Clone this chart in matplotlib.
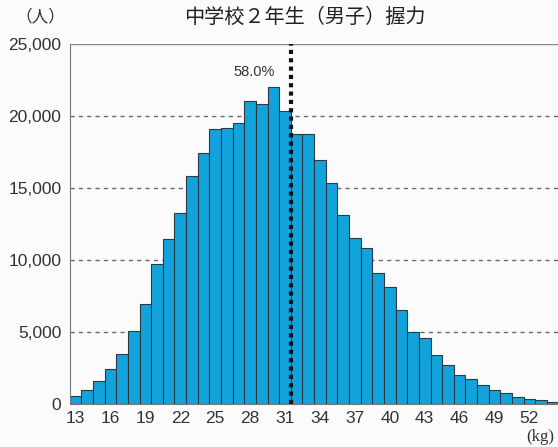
import matplotlib
matplotlib.use("Agg")
import matplotlib.pyplot as plt
import numpy as np

plt.rcParams['font.family'] = ['Liberation Sans', 'Noto Sans CJK JP', 'DejaVu Sans']

# grip strength (kg) and number of students
grip_kg = list(range(13, 55))
students = [600, 1000, 1600, 2470, 3500, 5100, 7000, 9760, 11480, 13300,
            15870, 17470, 19100, 19200, 19560, 21060, 20880, 22060, 20390, 18800,
            18770, 16940, 15350, 13150, 11530, 10880, 9100, 8170, 6550, 5040,
            4630, 3450, 2750, 2060, 1740, 1320, 1000, 800, 530, 390,
            280, 160]
y_ticks = [0, 5000, 10000, 15000, 20000, 25000]
y_tick_labels = ["0", "5,000", "10,000", "15,000", "20,000", "25,000"]
x_ticks = list(range(13, 53, 3))
cut_kg = 31.5
cut_label = "58.0%"

BAR_COLOR = "#12a3dc"
TEXT_COLOR = "#333333"

fig = plt.figure(figsize=(5.58, 4.47), dpi=100)
fig.patch.set_facecolor("#fbfbfb")
ax = fig.add_axes([0.1249, 0.0955, 0.8751, 0.8054])
ax.set_facecolor("#fbfbfb")

ax.bar(grip_kg, students, width=1.0, color=BAR_COLOR, edgecolor="#2b3a40",
       linewidth=0.8, zorder=2)

# dashed grid lines
for y in y_ticks[1:-1]:
    ax.axhline(y, color="#6a6a6a", linestyle=(0, (3, 3)), linewidth=1.0, zorder=1)
ax.axhline(25000, color="#888888", linewidth=1.0, zorder=1)

# average line
ax.axvline(cut_kg, color="#111111", linestyle=(0, (1, 1)), linewidth=3.0, zorder=3)
ax.text(28.35, 23100, cut_label, ha="center", va="center", fontsize=10.5,
        color=TEXT_COLOR)

ax.set_xlim(12.5, 54.45)
ax.set_ylim(0, 25000)
ax.set_yticks(y_ticks)
ax.set_yticklabels(y_tick_labels)
ax.set_xticks(x_ticks)
ax.tick_params(axis="both", length=0, labelsize=12.5, colors=TEXT_COLOR)
ax.tick_params(axis="y", pad=6)
ax.tick_params(axis="x", pad=5)

for side in ["top", "right"]:
    ax.spines[side].set_visible(False)
ax.spines["left"].set_color("#777777")
ax.spines["bottom"].set_color("#777777")

fig.text(0.547, 0.962, "中学校２年生（男子）握力", ha="center", va="center",
         fontsize=14.5, color="#222222", family=['Noto Sans CJK JP', 'DejaVu Sans'])
fig.text(0.073, 0.962, "（人）", ha="center", va="center", fontsize=12,
         color=TEXT_COLOR, family=['Noto Sans CJK JP', 'DejaVu Sans'])
fig.text(0.968, 0.022, "(kg)", ha="center", va="center", fontsize=12,
         color=TEXT_COLOR, family=['Liberation Serif', 'DejaVu Serif'])

fig.savefig("out.png", dpi=100, facecolor=fig.get_facecolor())
